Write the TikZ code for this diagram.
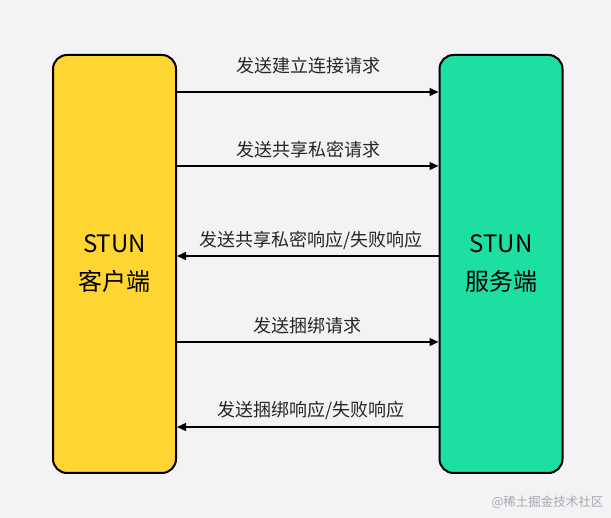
\documentclass[tikz,border=0pt]{standalone}
\usepackage{fontspec}
\setmainfont{Noto Sans CJK SC}
\usetikzlibrary{arrows.meta}
\definecolor{bg}{HTML}{F3F3F5}
\definecolor{yel}{HTML}{FED531}
\definecolor{grn}{HTML}{1DDFA3}
\definecolor{wm}{HTML}{A8A8AC}
\begin{document}
\begin{tikzpicture}[x=1pt,y=-1pt,
  box/.style={draw=black,line width=2pt,rounded corners=14pt,minimum width=123pt,minimum height=418pt,inner sep=0pt},
  boxtext/.style={font=\fontsize{24}{38}\selectfont,align=center},
  msg/.style={-{Triangle[length=9pt,width=8pt]},line width=1.4pt},
  lbl/.style={font=\fontsize{18}{20}\selectfont,text=black!85}]
\fill[bg] (0,0) rectangle (611,518);
\useasboundingbox (0,0) rectangle (611,518);
\node[box,fill=yel] (c) at (114.5,264) {};
\node[box,fill=grn] (s) at (501,264) {};
\node[boxtext] at (114.5,264) {STUN\\客户端};
\node[boxtext] at (501,264) {STUN\\服务端};
\coordinate (c1) at (c.east |- 0,92);
\coordinate (s1) at (s.west |- 0,92);
\coordinate (c2) at (c.east |- 0,166);
\coordinate (s2) at (s.west |- 0,166);
\coordinate (c3) at (c.east |- 0,256);
\coordinate (s3) at (s.west |- 0,256);
\coordinate (c4) at (c.east |- 0,342);
\coordinate (s4) at (s.west |- 0,342);
\coordinate (c5) at (c.east |- 0,427);
\coordinate (s5) at (s.west |- 0,427);
\draw[msg] (c1) -- (s1);
\draw[msg] (c2) -- (s2);
\draw[msg] (s3) -- (c3);
\draw[msg] (c4) -- (s4);
\draw[msg] (s5) -- (c5);
\node[lbl] (l1) at (308,66) {发送建立连接请求};
\node[lbl] (l2) at (308,150) {发送共享私密请求};
\node[lbl] (l3) at (311,240) {发送共享私密响应/失败响应};
\node[lbl] (l4) at (307,326) {发送捆绑请求};
\node[lbl] (l5) at (311,410) {发送捆绑响应/失败响应};
\node[font=\fontsize{12.5}{14}\selectfont,text=wm,anchor=east] (w) at (607,502) {@稀土掘金技术社区};
\end{tikzpicture}
\end{document}
